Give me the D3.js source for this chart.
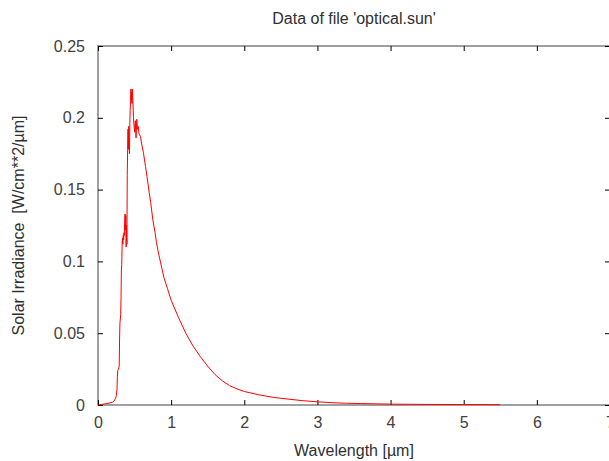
<!DOCTYPE html>
<html>
<head>
<meta charset="utf-8">
<script src="https://cdn.jsdelivr.net/npm/d3@7"></script>
<style>
  body { margin: 0; background: #fff; }
  text { font-family: "Liberation Sans", Arial, sans-serif; }
</style>
</head>
<body>
<script>

/******** Data ***************************/

var wavelength = [0.0, 0.05, 0.1, 0.15, 0.2, 0.22, 0.24, 0.25, 0.26, 0.265, 0.27, 0.28, 0.29, 0.295,
  0.30, 0.31, 0.315, 0.32, 0.325, 0.33, 0.335, 0.34, 0.345, 0.35, 0.355, 0.36, 0.365, 0.37, 0.375,
  0.38, 0.385, 0.39, 0.395, 0.40, 0.405, 0.41, 0.415, 0.42, 0.425, 0.43, 0.435, 0.44, 0.445, 0.45,
  0.455, 0.46, 0.465, 0.47, 0.475, 0.48, 0.485, 0.49, 0.50, 0.51, 0.52, 0.53, 0.54, 0.55, 0.56,
  0.58, 0.60, 0.62, 0.65, 0.67, 0.70, 0.72, 0.75, 0.78, 0.80, 0.83, 0.87, 0.90, 0.95, 1.0, 1.1,
  1.2, 1.3, 1.4, 1.5, 1.6, 1.7, 1.8, 1.9, 2.0, 2.2, 2.4, 2.6, 2.8, 3.0, 3.2, 3.4, 3.6, 3.8, 4.0,
  4.5, 5.0, 5.5]

var irradiance = [0.0, 0.0004, 0.0008, 0.0013, 0.002, 0.0028, 0.0045, 0.0065, 0.011, 0.020, 0.024, 0.025, 0.027, 0.046,
  0.057, 0.063, 0.075, 0.094, 0.098, 0.112, 0.116, 0.112, 0.118, 0.115, 0.120, 0.118, 0.128, 0.133, 0.122,
  0.132, 0.110, 0.125, 0.112, 0.160, 0.178, 0.192, 0.178, 0.194, 0.182, 0.175, 0.196, 0.205, 0.212, 0.220,
  0.212, 0.218, 0.210, 0.220, 0.214, 0.208, 0.200, 0.196, 0.190, 0.198, 0.186, 0.199, 0.192, 0.194, 0.189,
  0.187, 0.181, 0.176, 0.166, 0.159, 0.148, 0.141, 0.129, 0.120, 0.113, 0.105, 0.096, 0.089, 0.081, 0.073, 0.061,
  0.050, 0.041, 0.0336, 0.0270, 0.0212, 0.0168, 0.0135, 0.0112, 0.0094, 0.0071, 0.0053, 0.0041, 0.0030, 0.0022, 0.0016, 0.0012, 0.0010, 0.0008, 0.0006,
  0.0004, 0.0003, 0.0002]

var x_ticks = [0, 1, 2, 3, 4, 5, 6, 7]
var x_tick_labels = ["0", "1", "2", "3", "4", "5", "6", "7"]
var y_ticks = [0, 0.05, 0.1, 0.15, 0.2, 0.25]
var y_tick_labels = ["0", "0.05", "0.1", "0.15", "0.2", "0.25"]

var points = wavelength.map(function(w, i){
  return {w: w, v: irradiance[i]}
})

/******** Layout *********/

var width = 609, height = 461
var plot_left = 98, plot_right = 610, plot_top = 46, plot_bottom = 405

var svg = d3.select("body")
  .append("svg")
    .attr("width", width)
    .attr("height", height)

var x_scale = d3.scaleLinear()
  .domain([0, 7])
  .range([plot_left, plot_right])

var y_scale = d3.scaleLinear()
  .domain([0, 0.25])
  .range([plot_bottom, plot_top])

/******** Border *********/

svg.append("rect")
  .attr("x", plot_left)
  .attr("y", plot_top)
  .attr("width", plot_right - plot_left)
  .attr("height", plot_bottom - plot_top)
  .attr("fill", "none")
  .attr("stroke", "#808080")
  .attr("stroke-width", 1.5)

/******** Axes (gnuplot-style inward, mirrored ticks) *********/

var label_of = function(ticks, labels){
  return function(d){ return labels[ticks.indexOf(d)] }
}

var x_axis = d3.axisBottom(x_scale)
  .tickValues(x_ticks)
  .tickFormat(label_of(x_ticks, x_tick_labels))
  .tickSize(-5)
  .tickPadding(12)

var y_axis = d3.axisLeft(y_scale)
  .tickValues(y_ticks)
  .tickFormat(label_of(y_ticks, y_tick_labels))
  .tickSize(-5)
  .tickPadding(13)

svg.append("g")
    .attr("class", "x axis")
    .attr("transform", "translate(0," + plot_bottom + ")")
    .call(x_axis)

svg.append("g")
    .attr("class", "y axis")
    .attr("transform", "translate(" + plot_left + ",0)")
    .call(y_axis)

svg.append("g")
    .attr("class", "mirror")
    .attr("transform", "translate(0," + plot_top + ")")
    .call(d3.axisTop(x_scale).tickValues(x_ticks).tickFormat("").tickSize(-5))

svg.append("g")
    .attr("class", "mirror")
    .attr("transform", "translate(" + plot_right + ",0)")
    .call(d3.axisRight(y_scale).tickValues(y_ticks).tickFormat("").tickSize(-5))

svg.selectAll(".domain").remove()
svg.selectAll(".tick line").attr("stroke", "#000")
svg.selectAll(".tick text")
  .attr("font-size", "16px")
  .attr("font-family", "Liberation Sans, Arial, sans-serif")
  .attr("fill", "#404040")

/******** Curve *********/

var line = d3.line()
  .x(function(d){ return x_scale(d.w) })
  .y(function(d){ return y_scale(d.v) })

svg.append("path")
  .attr("d", line(points))
  .attr("fill", "none")
  .attr("stroke", "#ff0000")
  .attr("stroke-width", 1)

/******** Titles *********/

svg.append("text")
  .attr("x", (plot_left + plot_right) / 2)
  .attr("y", 24)
  .attr("text-anchor", "middle")
  .attr("font-size", "16px")
  .attr("fill", "#303030")
  .text("Data of file 'optical.sun'")

svg.append("text")
  .attr("x", (plot_left + plot_right) / 2)
  .attr("y", 456)
  .attr("text-anchor", "middle")
  .attr("font-size", "16px")
  .attr("fill", "#303030")
  .text("Wavelength [\u00b5m]")

svg.append("text")
  .attr("transform", "translate(24," + (plot_top + plot_bottom) / 2 + ") rotate(-90)")
  .attr("text-anchor", "middle")
  .attr("font-size", "16px")
  .attr("fill", "#303030")
  .style("white-space", "pre")
  .text("Solar Irradiance  [W/cm**2/\u00b5m]")

</script>
</body>
</html>
